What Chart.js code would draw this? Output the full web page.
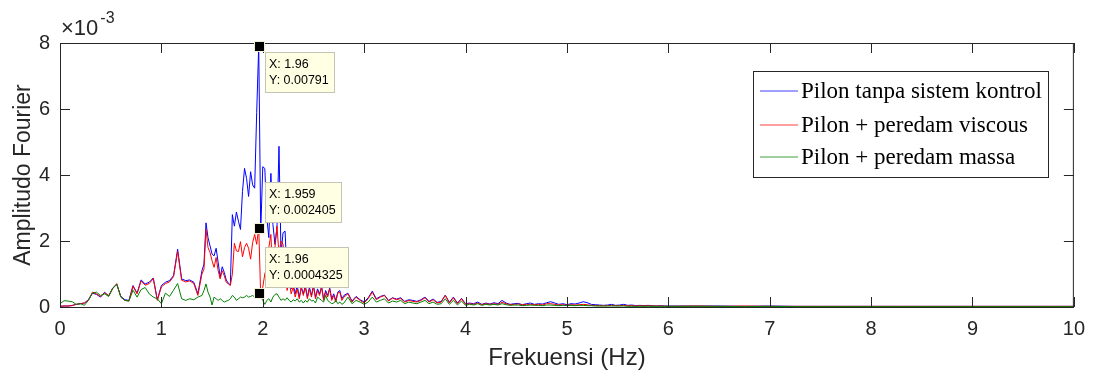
<!DOCTYPE html>
<html>
<head>
<meta charset="utf-8">
<script src="https://cdn.jsdelivr.net/npm/chart.js@4"></script>
<style>
  html, body { margin: 0; padding: 0; background: #fff; }
</style>
</head>
<body>
<canvas id="fftChart" width="1095" height="378"></canvas>
<script>
// sampling grid of the spectrum (Hz)
function steps(from, to, step) {
    const out = [];
    const n = Math.round((to - from) / step);
    for (let i = 0; i <= n; i++) out.push(+(from + i * step).toFixed(3));
    return out;
}
const freq = [
    ...steps(0, 1.40, 0.04),
    ...steps(1.42, 2.80, 0.02),
    ...steps(2.84, 6.00, 0.04),
    ...steps(6.25, 10, 0.25)
];

// amplitudes, in units of 1e-3
const ampTanpa = [
    .02,.03,.03,.05,.08,.1,.12,.22,.42,.38,.3,.45,.33,.58,.68,.32,.22,.2,.65,.42,.82,.7,.75,.88,.22,.65,.75,.8,.95,1.75,.85,.8,.82,.75,.4,1.1,
    1.3,2.55,2.1,1.85,1.6,1.55,1.78,1.35,.9,1.22,1.05,.82,.72,.67,2.8,2.45,2.88,2.6,2.35,3.5,
    4.2,3.9,3.35,4.1,3.7,3.6,5.9,7.91,2.3,4.25,4.2,2.7,2.1,4.05,2.5,1.9,2.4,4.87,1.6,2.25,
    2.3,.9,1.4,.55,.7,.4,.65,.3,.6,.4,
    .65,.3,.6,.35,.65,.3,.55,.4,.62,.25,.5,.35,.58,.25,.4,.2,.45,.5,.25,.35,
    .42,.18,.32,.22,.15,.28,.48,.25,.32,.36,.2,.28,.24,.28,.17,.22,.2,.17,.22,.3,.17,.24,.14,.17,.36,.14,.3,.12,.26,.1,
    .12,.1,.15,.08,.12,.09,.13,.1,.2,.12,.08,.1,.11,.07,.1,.12,.08,.1,.09,.13,.16,.12,.08,.1,.07,
    .1,.09,.12,.16,.13,.08,.07,.06,.05,.06,.08,.05,.06,.08,.05,.06,.04,.05,.04,.05,.04,.03,.04,.03,.03,
    .03,.03,.02,.03,.02,.02,.02,.02,.02,.02,.02,.02,.02,.02,.02,.02
];
const ampViscous = [
    .02,.03,.03,.04,.08,.1,.12,.2,.45,.4,.32,.42,.35,.56,.71,.3,.2,.18,.63,.4,.79,.66,.71,.86,.2,.61,.71,.76,.92,1.68,.81,.76,.79,.71,.35,1.0,
    1.15,2.35,1.8,1.65,1.4,1.2,1.5,1.1,.85,1.1,.95,.75,.7,.65,1.0,1.93,1.7,1.68,1.98,1.52,
    1.8,1.93,1.78,1.45,1.95,2.2,1.9,2.405,.3,.6,1.0,1.2,1.8,2.2,.8,1.8,2.45,1.6,2.0,1.9,
    1.2,.5,.8,.4,.6,.3,.55,.25,.6,.35,
    .6,.25,.55,.3,.62,.25,.5,.35,.6,.2,.45,.3,.55,.2,.35,.15,.42,.45,.2,.3,
    .4,.15,.3,.2,.12,.25,.45,.22,.3,.35,.18,.27,.22,.26,.15,.2,.17,.15,.2,.28,.15,.22,.12,.15,.35,.12,.28,.1,.25,.08,
    .1,.08,.12,.07,.1,.08,.1,.08,.14,.1,.07,.08,.09,.06,.08,.08,.07,.08,.06,.1,.1,.08,.06,.07,.05,
    .07,.06,.07,.08,.07,.05,.05,.04,.04,.04,.05,.04,.04,.05,.04,.04,.03,.04,.03,.04,.03,.03,.03,.03,.02,
    .03,.02,.03,.02,.02,.02,.02,.02,.02,.02,.02,.02,.02,.02,.02,.02
];
const ampMassa = [
    .1,.19,.18,.16,.08,.1,.05,.2,.42,.45,.35,.4,.32,.56,.69,.3,.2,.18,.51,.3,.53,.59,.4,.3,.25,.1,.42,.32,.51,.71,.25,.2,.25,.22,.3,.35,
    .5,.7,.45,.3,.06,.3,.25,.2,.25,.2,.15,.18,.2,.25,.35,.3,.2,.25,.3,.28,
    .3,.35,.3,.32,.35,.3,.38,.4325,.3,.2,.08,.2,.25,.15,.3,.38,.4,.3,.2,.25,
    .2,.28,.2,.15,.22,.18,.25,.15,.2,.12,
    .2,.15,.25,.18,.2,.12,.3,.25,.2,.15,.35,.2,.15,.1,.12,.2,.1,.15,.08,.12,
    .3,.1,.2,.15,.08,.15,.3,.15,.2,.25,.12,.18,.15,.2,.1,.15,.12,.1,.15,.2,.1,.15,.08,.1,.25,.08,.2,.06,.18,.05,
    .08,.06,.1,.05,.08,.06,.08,.06,.1,.07,.05,.06,.06,.04,.05,.06,.05,.05,.04,.06,.06,.05,.04,.05,.04,
    .05,.04,.05,.05,.04,.04,.03,.03,.03,.03,.03,.03,.03,.03,.02,.02,.02,.02,.02,.02,.02,.02,.02,.02,.02,
    .02,.02,.01,.02,.01,.01,.01,.01,.01,.01,.01,.01,.01,.01,.01,.01
];

const seriesNames = ['Pilon tanpa sistem kontrol', 'Pilon + peredam viscous', 'Pilon + peredam massa'];
const seriesColors = ['#0000ff', '#ff0000', '#008000'];
const xTicks = [0, 1, 2, 3, 4, 5, 6, 7, 8, 9, 10];
const yTicks = [0, 2, 4, 6, 8];

// data tips (x, y in 1e-3) with the text MATLAB shows
const dataTips = [
    { x: 1.96, y: 7.91, text: ['X: 1.96', 'Y: 0.00791'] },
    { x: 1.959, y: 2.405, text: ['X: 1.959', 'Y: 0.002405'] },
    { x: 1.96, y: 0.4325, text: ['X: 1.96', 'Y: 0.0004325'] }
];

const AXIS = '#262626';
const SANS = "'Liberation Sans', Arial, sans-serif";

function toPoints(ys) {
    return ys.map((v, i) => ({ x: freq[i], y: v }));
}

const decor = {
    id: 'decor',
    afterDatasetsDraw(chart) {
        const { ctx, chartArea: a, scales: { x, y } } = chart;
        ctx.save();

        // box and inward ticks
        ctx.strokeStyle = AXIS;
        ctx.lineWidth = 1;
        ctx.beginPath();
        ctx.rect(a.left + 0.5, a.top + 0.5, a.right - a.left - 1, a.bottom - a.top);
        xTicks.forEach(t => {
            const px = Math.round(x.getPixelForValue(t)) + 0.5;
            ctx.moveTo(px, a.bottom); ctx.lineTo(px, a.bottom - 10);
            ctx.moveTo(px, a.top); ctx.lineTo(px, a.top + 10);
        });
        yTicks.forEach(t => {
            const py = Math.round(y.getPixelForValue(t)) + 0.5;
            ctx.moveTo(a.left, py); ctx.lineTo(a.left + 10, py);
            ctx.moveTo(a.right, py); ctx.lineTo(a.right - 10, py);
        });
        ctx.stroke();

        // exponent label
        ctx.fillStyle = AXIS;
        ctx.textBaseline = 'alphabetic';
        ctx.textAlign = 'left';
        ctx.font = '22px ' + SANS;
        ctx.fillText('\u00d710', a.left + 1, a.top - 8);
        const w = ctx.measureText('\u00d710').width;
        ctx.font = '16px ' + SANS;
        ctx.fillText('-3', a.left + 3 + w, a.top - 20);

        // legend
        const lx = 753, ly = 71, lw = 295, lh = 106;
        ctx.fillStyle = '#fff';
        ctx.fillRect(lx, ly, lw, lh);
        ctx.strokeStyle = AXIS;
        ctx.strokeRect(lx + 0.5, ly + 0.5, lw, lh);
        ctx.font = "23px 'Liberation Serif', 'Times New Roman', serif";
        ctx.textBaseline = 'middle';
        const rows = [91, 125, 157];
        seriesNames.forEach((name, i) => {
            ctx.strokeStyle = seriesColors[i];
            ctx.globalAlpha = 0.75;
            ctx.beginPath();
            ctx.moveTo(760, rows[i]);
            ctx.lineTo(798, rows[i]);
            ctx.stroke();
            ctx.globalAlpha = 1;
            ctx.fillStyle = '#000';
            ctx.fillText(name, 801, rows[i] + 1);
        });

        // data tips
        ctx.font = '12.5px ' + SANS;
        dataTips.forEach(tip => {
            const px = Math.round(x.getPixelForValue(tip.x));
            const py = Math.round(y.getPixelForValue(tip.y));
            const tw = Math.max(...tip.text.map(s => ctx.measureText(s).width));
            const bw = Math.round(tw + 9), bh = 40;
            let by = py - 6 - bh;
            if (by < a.top) by = py + 6;
            const bx = px + 6;
            ctx.fillStyle = '#ffffe4';
            ctx.fillRect(bx, by, bw, bh);
            ctx.strokeStyle = '#c4c4b4';
            ctx.strokeRect(bx + 0.5, by + 0.5, bw, bh);
            ctx.fillStyle = '#000';
            ctx.textBaseline = 'middle';
            ctx.fillText(tip.text[0], bx + 4, by + 13);
            ctx.fillText(tip.text[1], bx + 4, by + 29);
            ctx.fillStyle = '#000';
            ctx.fillRect(px - 4, py - 4, 9, 9);
            ctx.strokeStyle = '#f0f0d0';
            ctx.strokeRect(px - 4.5, py - 4.5, 10, 10);
        });
        ctx.restore();
    }
};

new Chart(document.getElementById('fftChart'), {
    type: 'line',
    data: {
        datasets: [
            { label: seriesNames[0], data: toPoints(ampTanpa), borderColor: seriesColors[0], order: 3 },
            { label: seriesNames[1], data: toPoints(ampViscous), borderColor: seriesColors[1], order: 2 },
            { label: seriesNames[2], data: toPoints(ampMassa), borderColor: seriesColors[2], order: 1 }
        ]
    },
    options: {
        responsive: false,
        animation: false,
        parsing: false,
        layout: { padding: { top: 43, right: 18, left: 0, bottom: 0 } },
        elements: {
            line: { borderWidth: 1, tension: 0 },
            point: { radius: 0 }
        },
        plugins: {
            legend: { display: false },
            tooltip: { enabled: false }
        },
        scales: {
            x: {
                type: 'linear', min: 0, max: 10,
                afterBuildTicks: s => { s.ticks = xTicks.map(v => ({ value: v })); },
                afterFit: s => { s.height = 71; },
                grid: { display: false, drawTicks: false },
                border: { display: false },
                ticks: { color: AXIS, font: { family: SANS, size: 20 }, padding: 10, maxRotation: 0 },
                title: { display: true, text: 'Frekuensi (Hz)', color: AXIS, font: { family: SANS, size: 24 }, padding: { top: 0, bottom: 5 } }
            },
            y: {
                min: 0, max: 8,
                afterBuildTicks: s => { s.ticks = yTicks.map(v => ({ value: v })); },
                afterFit: s => { s.width = 60; },
                grid: { display: false, drawTicks: false },
                border: { display: false },
                ticks: { color: AXIS, font: { family: SANS, size: 20 }, padding: 10 },
                title: { display: true, text: 'Amplitudo Fourier', color: AXIS, font: { family: SANS, size: 23 }, padding: { top: 10, bottom: 0 } }
            }
        }
    },
    plugins: [decor]
});
</script>
</body>
</html>
